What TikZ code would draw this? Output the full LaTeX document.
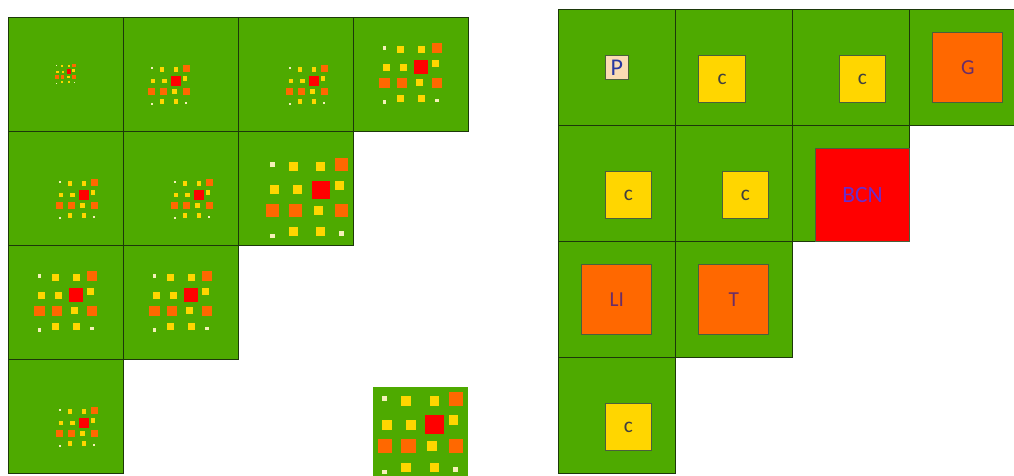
\documentclass[tikz,border=0pt]{standalone}
\usepackage{fontspec}
\setmainfont{Carlito}
\definecolor{leaf}{RGB}{78,170,0}
\definecolor{gridline}{RGB}{28,56,10}
\definecolor{gold}{RGB}{255,214,0}
\definecolor{tangerine}{RGB}{255,104,0}
\definecolor{pale}{RGB}{245,240,185}
\definecolor{peach}{RGB}{250,220,180}
\definecolor{inkblue}{RGB}{40,55,160}
\definecolor{plum}{RGB}{105,45,105}
\definecolor{bcnink}{RGB}{105,45,205}

\begin{document}
\begin{tikzpicture}[x=0.75pt,y=-0.75pt,
  lcell/.style={draw=gridline,fill=leaf,line width=0.7pt,minimum width=86.25pt,minimum height=85.5pt,inner sep=0pt},
  rcell/.style={lcell,minimum width=87.75pt,minimum height=87pt},
  tag/.style={draw=gridline!80,line width=0.6pt,inner sep=0pt,font=\fontsize{16}{18}\selectfont},
  psq/.style={tag,fill=peach,minimum size=17.5pt,text=inkblue,font=\fontsize{18}{20}\selectfont},
  csq/.style={tag,fill=gold,minimum size=35pt,text=darkgray},
  gsq/.style={tag,fill=tangerine,minimum size=52.5pt,text=plum},
  bsq/.style={tag,fill=red,minimum size=70pt,text=bcnink,font=\fontsize{17.5}{19}\selectfont},
  mapsq/.pic={
    \fill[pale] (0.4,0.4) rectangle (0.6,0.6);
    \fill[gold] (1.2,0.4) rectangle (1.6,0.8);
    \fill[gold] (2.4,0.4) rectangle (2.8,0.8);
    \fill[tangerine] (3.2,0.2) rectangle (3.8,0.8);
    \fill[gold] (0.4,1.4) rectangle (0.8,1.8);
    \fill[gold] (1.4,1.4) rectangle (1.8,1.8);
    \fill[red] (2.2,1.2) rectangle (3.0,2.0);
    \fill[gold] (3.2,1.2) rectangle (3.6,1.6);
    \fill[tangerine] (0.2,2.2) rectangle (0.8,2.8);
    \fill[tangerine] (1.2,2.2) rectangle (1.8,2.8);
    \fill[gold] (2.3,2.3) rectangle (2.7,2.7);
    \fill[tangerine] (3.2,2.2) rectangle (3.8,2.8);
    \fill[pale] (0.4,3.5) rectangle (0.6,3.7);
    \fill[gold] (1.2,3.2) rectangle (1.6,3.6);
    \fill[gold] (2.4,3.2) rectangle (2.8,3.6);
    \fill[pale] (3.4,3.4) rectangle (3.6,3.6);
  }
]
\useasboundingbox (0,0) rectangle (1014,475);
\clip (0,0) rectangle (1014,475);

\node[lcell] (L11) at (65.5,74) {};
\node[lcell] (L21) at (180.5,74) {};
\node[lcell] (L31) at (295.5,74) {};
\node[lcell] (L41) at (410.5,74) {};
\node[lcell] (L12) at (65.5,188) {};
\node[lcell] (L22) at (180.5,188) {};
\node[lcell] (L32) at (295.5,188) {};
\node[lcell] (L13) at (65.5,302) {};
\node[lcell] (L23) at (180.5,302) {};
\node[lcell] (L14) at (65.5,416) {};
\pic[scale=5.75] at (54,62.5) {mapsq};
\pic[scale=11.5] at (146,62.5) {mapsq};
\pic[scale=11.5] at (284,62.5) {mapsq};
\pic[scale=17.5] at (375.5,39) {mapsq};
\pic[scale=11.5] at (54,176.5) {mapsq};
\pic[scale=11.5] at (169,176.5) {mapsq};
\pic[scale=23] at (261,153) {mapsq};
\pic[scale=17.5] at (30.5,267) {mapsq};
\pic[scale=17.5] at (145.5,267) {mapsq};
\pic[scale=11.5] at (54,404.5) {mapsq};

\node[fill=leaf,minimum size=70.9pt,inner sep=0pt] (zoomed) at (420.25,434.25) {};
\pic[scale=23.625] at (373,387) {mapsq};

\node[rcell] (R11) at (616.8,67.3) {};
\node[rcell] (R21) at (733.8,67.3) {};
\node[rcell] (R31) at (850.8,67.3) {};
\node[rcell] (R41) at (967.8,67.3) {};
\node[rcell] (R12) at (616.8,183.3) {};
\node[rcell] (R22) at (733.8,183.3) {};
\node[rcell] (R32) at (850.8,183.3) {};
\node[rcell] (R13) at (616.8,299.3) {};
\node[rcell] (R23) at (733.8,299.3) {};
\node[rcell] (R14) at (616.8,415.3) {};
\node[psq] (port) at (616.8,67.3) {P};
\node[csq] (c21) at (722.1,78.9) {c};
\node[csq] (c31) at (862.5,78.9) {c};
\node[gsq] (gir) at (967.8,67.3) {G};
\node[csq] (c12) at (628.5,194.9) {c};
\node[csq] (c22) at (745.5,194.9) {c};
\node[bsq] (bcn) at (862.5,194.6) {BCN};
\node[gsq] (lli) at (616.8,299.3) {LI};
\node[gsq] (tar) at (733.8,299.3) {T};
\node[csq] (c14) at (628.5,426.9) {c};
\end{tikzpicture}
\end{document}
